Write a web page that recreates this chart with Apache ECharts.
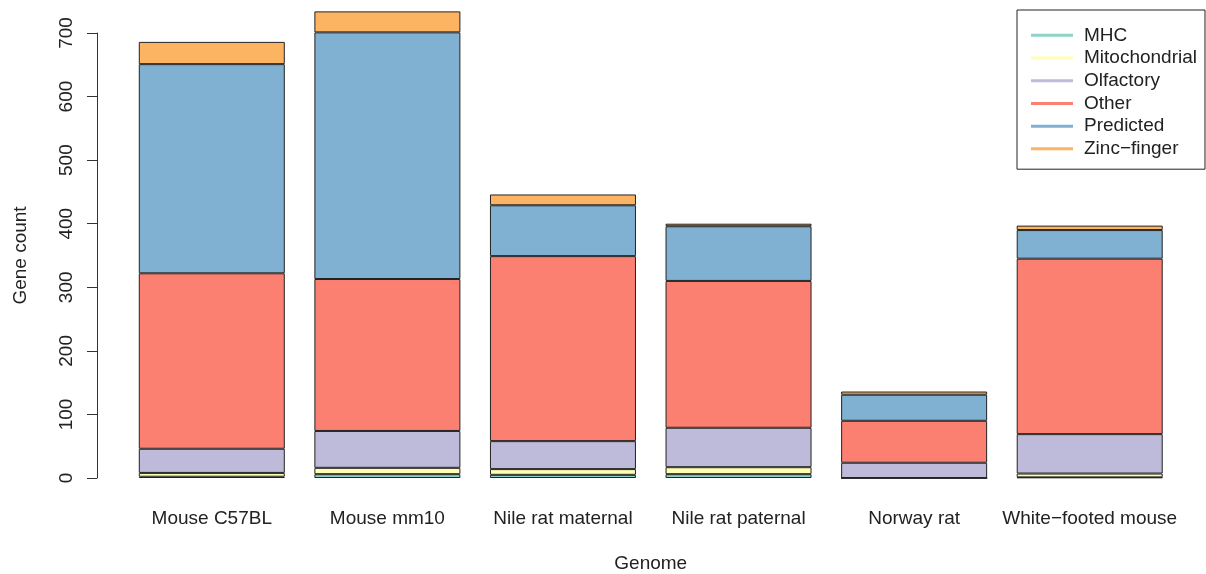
<!DOCTYPE html>
<html>
<head>
<meta charset="utf-8">
<script src="https://cdn.jsdelivr.net/npm/echarts@6/dist/echarts.min.js"></script>
<style>
  html, body { margin: 0; padding: 0; background: #fff; }
  #main { width: 1206px; height: 574px; }
</style>
</head>
<body>
<div id="main"></div>
<script>
// genomes on the x axis
const genomes = ['Mouse C57BL', 'Mouse mm10', 'Nile rat maternal', 'Nile rat paternal', 'Norway rat', 'White\u2212footed mouse'];
// gene counts per class, stacked bottom to top
const mhc = [2, 6, 5, 6, 0, 1];
const mitochondrial = [6, 10, 9, 11, 0, 6];
const olfactory = [38, 58, 44, 62, 24, 62];
const other = [276, 239, 291, 231, 66, 276];
const predicted = [329, 388, 80, 86, 41, 45];
const zincFinger = [35, 33, 17, 4, 5, 7];
const yTicks = [0, 100, 200, 300, 400, 500, 600, 700];

const classes = [
  { name: 'MHC', data: mhc, color: '#8DD3C7' },
  { name: 'Mitochondrial', data: mitochondrial, color: '#FFFFB3' },
  { name: 'Olfactory', data: olfactory, color: '#BEBADA' },
  { name: 'Other', data: other, color: '#FB8072' },
  { name: 'Predicted', data: predicted, color: '#80B1D3' },
  { name: 'Zinc\u2212finger', data: zincFinger, color: '#FDB462' }
];

const font = 'Liberation Sans, Arial, sans-serif';
const fs = 19;
const chart = echarts.init(document.getElementById('main'));

chart.setOption({
  animation: false,
  backgroundColor: '#fff',
  textStyle: { fontFamily: font },
  grid: { left: 124, right: 28.5, top: 33, bottom: 96, outerBoundsMode: 'none', containLabel: false },
  legend: {
    orient: 'vertical',
    left: 1017,
    top: 10,
    padding: [14, 8, 9, 14],
    itemGap: 0,
    itemWidth: 42,
    itemHeight: 3,
    icon: 'rect',
    itemStyle: { borderWidth: 0 },
    borderColor: '#222',
    borderWidth: 1,
    borderRadius: 0,
    textStyle: { fontSize: fs, color: '#222', lineHeight: 22.7, padding: [0, 0, 0, 6] },
    data: classes.map(c => c.name)
  },
  xAxis: {
    type: 'category',
    data: genomes,
    axisLine: { show: false },
    axisTick: { show: false },
    axisLabel: { fontSize: fs, color: '#222', margin: 31, interval: 0 },
    name: 'Genome',
    nameLocation: 'middle',
    nameGap: 76,
    nameTextStyle: { fontSize: fs, color: '#222' }
  },
  yAxis: {
    type: 'value',
    min: 0,
    max: 700,
    interval: 100,
    offset: 27,
    axisLine: { show: true, lineStyle: { color: '#333', width: 1 } },
    axisTick: { show: true, length: 10, lineStyle: { color: '#333' } },
    splitLine: { show: false },
    axisLabel: {
      fontSize: fs, color: '#222', rotate: 90, margin: 21,
      formatter: v => (yTicks.indexOf(v) >= 0 ? String(v) : '')
    },
    name: 'Gene count',
    nameLocation: 'middle',
    nameGap: 67,
    nameTextStyle: { fontSize: fs, color: '#222' }
  },
  series: classes.map(c => ({
    name: c.name,
    type: 'bar',
    stack: 'genes',
    data: c.data,
    barWidth: 146,
    clip: false,
    itemStyle: { color: c.color, borderColor: '#222', borderWidth: 1 }
  }))
});
</script>
</body>
</html>
